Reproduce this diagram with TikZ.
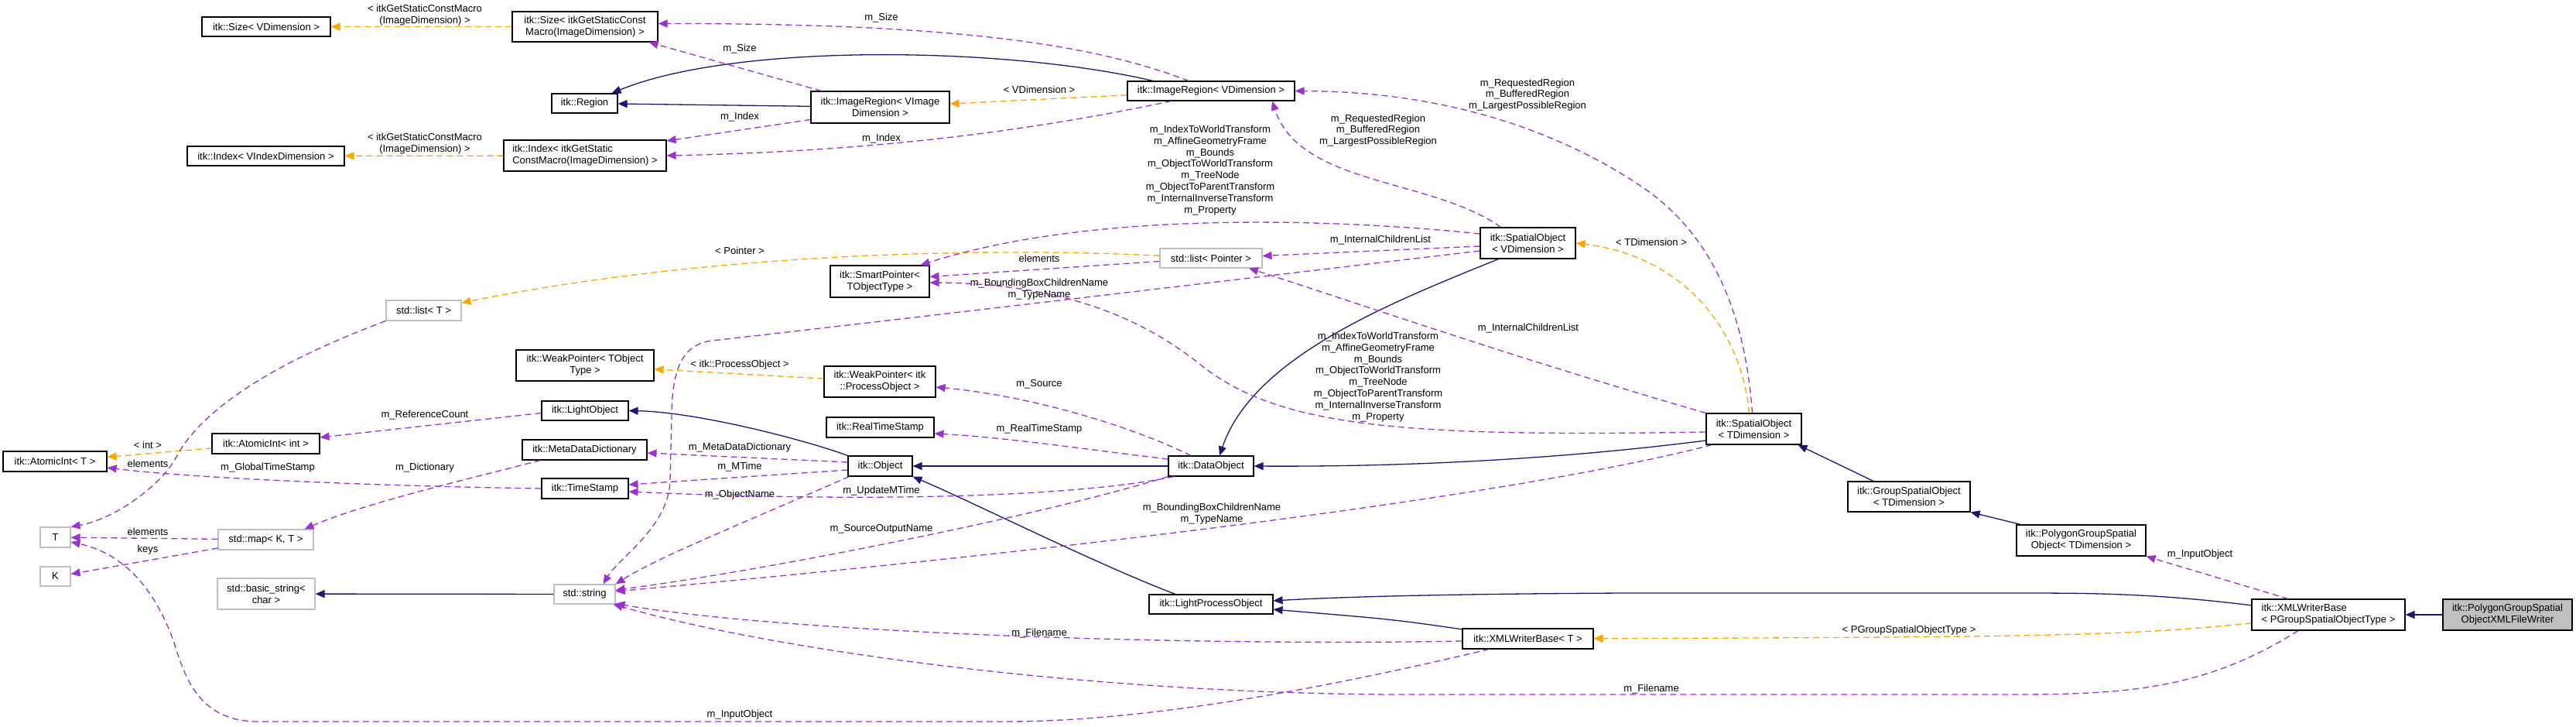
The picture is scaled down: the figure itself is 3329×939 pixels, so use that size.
\documentclass[tikz,border=0pt]{standalone}
\usepackage{fontspec}
\setmainfont{Liberation Sans}
\usepackage{tikz}
\usetikzlibrary{arrows.meta}
\definecolor{inhblue}{HTML}{191970}
\definecolor{usepurple}{HTML}{9A32CD}
\definecolor{tplorange}{HTML}{FFA500}
\definecolor{grey75}{HTML}{BFBFBF}
\newcommand{\soMembers}{m\_IndexToWorldTransform\\m\_AffineGeometryFrame\\m\_Bounds\\m\_ObjectToWorldTransform\\m\_TreeNode\\m\_ObjectToParentTransform\\m\_InternalInverseTransform\\m\_Property}
\newcommand{\regionMembers}{m\_RequestedRegion\\m\_BufferedRegion\\m\_LargestPossibleRegion}
\newcommand{\nameMembers}{m\_BoundingBoxChildrenName\\m\_TypeName}

\begin{document}
\begin{tikzpicture}[x=1pt,y=-1pt,>={Triangle[length=12pt,width=10pt]},font=\fontsize{13pt}{14.8pt}\selectfont]
\tikzstyle{cls}=[draw=black,fill=white,line width=1.1pt,inner sep=2pt,align=center,minimum height=25pt]
\tikzstyle{std}=[cls,draw=grey75]
\tikzstyle{lbl}=[align=center,inner sep=0pt]
\tikzstyle{inh}=[->,draw=inhblue,line width=1.3pt]
\tikzstyle{use}=[->,draw=usepurple,line width=1.3pt,dash pattern=on 8pt off 5pt]
\tikzstyle{tpl}=[->,draw=tplorange,line width=1.3pt,dash pattern=on 8pt off 5pt]
\useasboundingbox (0,0) rectangle (3329,939);

% classes
\node[cls,minimum width=166pt] (sizeV) at (344,34.5) {itk::Size< VDimension >};
\node[cls,minimum width=188pt,minimum height=39pt] (sizeM) at (756,34.5) {itk::Size< itkGetStaticConst\\Macro(ImageDimension) >};
\node[cls,minimum width=85pt] (region) at (755.5,133.5) {itk::Region};
\node[cls,minimum width=203pt] (indexV) at (343.5,201.5) {itk::Index< VIndexDimension >};
\node[cls,minimum width=210pt,minimum height=40pt,align=left] (indexM) at (756,201) {itk::Index< itkGetStatic\\ConstMacro(ImageDimension) >};
\node[cls,minimum width=179pt,minimum height=41pt] (imgRegI) at (1137.5,138.5) {itk::ImageRegion< VImage\\Dimension >};
\node[cls,minimum width=216pt] (imgRegV) at (1565,117.5) {itk::ImageRegion< VDimension >};
\node[cls,minimum width=123pt,minimum height=40pt] (spatV) at (1974.5,314) {itk::SpatialObject\\< VDimension >};
\node[cls,minimum width=123pt,minimum height=40pt] (spatT) at (2266.5,554) {itk::SpatialObject\\< TDimension >};
\node[cls,minimum width=128pt,minimum height=41pt] (smart) at (1137,363.5) {itk::SmartPointer<\\TObjectType >};
\node[std,minimum width=132pt] (listP) at (1565,333.5) {std::list< Pointer >};
\node[std,minimum width=97pt,minimum height=26pt] (listT) at (547.5,401) {std::list< T >};
\node[cls,minimum width=178pt,minimum height=40pt] (weakT) at (756,472) {itk::WeakPointer< TObject\\Type >};
\node[cls,minimum width=144pt,minimum height=40pt] (weakP) at (1137,493) {itk::WeakPointer< itk\\::ProcessObject >};
\node[cls,minimum width=139pt,minimum height=26pt] (realTS) at (1137.5,552) {itk::RealTimeStamp};
\node[cls,minimum width=112pt] (lightObj) at (756,530.5) {itk::LightObject};
\node[cls,minimum width=139pt,minimum height=26pt] (atomInt) at (343.5,573) {itk::AtomicInt< int >};
\node[cls,minimum width=134pt,minimum height=26pt] (atomT) at (71,596) {itk::AtomicInt< T >};
\node[cls,minimum width=161pt,minimum height=26pt] (metaDict) at (755.5,581) {itk::MetaDataDictionary};
\node[cls,minimum width=112pt,minimum height=26pt] (timeStamp) at (756,631) {itk::TimeStamp};
\node[cls,minimum width=83pt,minimum height=26pt] (object) at (1137.5,602) {itk::Object};
\node[cls,minimum width=110pt,minimum height=26pt] (dataObj) at (1565,602) {itk::DataObject};
\node[std,minimum width=39pt,minimum height=26pt] (Tn) at (71.5,694) {T};
\node[std,minimum width=39pt] (Kn) at (71.5,744.5) {K};
\node[std,minimum width=123pt,minimum height=26pt] (stdMap) at (343.5,697) {std::map< K, T >};
\node[std,minimum width=126pt,minimum height=40pt] (basicStr) at (344,767) {std::basic\_string<\\char >};
\node[std,minimum width=79pt] (stdStr) at (755.5,767.5) {std::string};
\node[cls,minimum width=160pt] (lpo) at (1565,780.5) {itk::LightProcessObject};
\node[cls,minimum width=169pt,minimum height=26pt] (xmlT) at (1974.5,825) {itk::XMLWriterBase< T >};
\node[cls,minimum width=158pt,minimum height=39pt] (groupSO) at (2467,641.5) {itk::GroupSpatialObject\\< TDimension >};
\node[cls,minimum width=167pt,minimum height=40pt] (polyGSO) at (2689.5,698) {itk::PolygonGroupSpatial\\Object< TDimension >};
\node[cls,minimum width=198pt,minimum height=40pt,align=left] (xmlPG) at (3009,794) {itk::XMLWriterBase\\< PGroupSpatialObjectType >};
\node[cls,fill=grey75,minimum width=167pt,minimum height=40pt] (writer) at (3240.5,794) {itk::PolygonGroupSpatial\\ObjectXMLFileWriter};

% labels
\node[lbl] (lTplSize) at (549,20) {< itkGetStaticConstMacro\\(ImageDimension) >};
\node[lbl] (lTplIndex) at (549,186) {< itkGetStaticConstMacro\\(ImageDimension) >};
\node[lbl] (lSizeV) at (1139,23) {m\_Size};
\node[lbl] (lSizeI) at (956,63) {m\_Size};
\node[lbl] (lTplRegion) at (1343,116) {< VDimension >};
\node[lbl] (lIndexI) at (956,151) {m\_Index};
\node[lbl] (lIndexV) at (1139,179) {m\_Index};
\node[lbl] (lMembersV) at (1564,220) {\soMembers};
\node[lbl] (lRegionT) at (1974,122.5) {\regionMembers};
\node[lbl] (lRegionV) at (1781,168.5) {\regionMembers};
\node[lbl] (lChildrenV) at (1784,310) {m\_InternalChildrenList};
\node[lbl] (lChildrenT) at (1975,424) {m\_InternalChildrenList};
\node[lbl] (lTplSpatial) at (2134,313) {< TDimension >};
\node[lbl] (lTplList) at (956,324) {< Pointer >};
\node[lbl] (lElemP) at (1343,334) {elements};
\node[lbl] (lNamesV) at (1343,374) {\nameMembers};
\node[lbl] (lMembersT) at (1781,487) {\soMembers};
\node[lbl] (lTplWeak) at (956,471) {< itk::ProcessObject >};
\node[lbl] (lSource) at (1343,496) {m\_Source};
\node[lbl] (lRefCount) at (549,536) {m\_ReferenceCount};
\node[lbl] (lRealTS) at (1343,554) {m\_RealTimeStamp};
\node[lbl] (lTplInt) at (191,575) {< int >};
\node[lbl] (lMetaDict) at (956,578) {m\_MetaDataDictionary};
\node[lbl] (lElemT) at (191,599) {elements};
\node[lbl] (lGlobalTS) at (346,604) {m\_GlobalTimeStamp};
\node[lbl] (lDict) at (549,604) {m\_Dictionary};
\node[lbl] (lMTime) at (956,603) {m\_MTime};
\node[lbl] (lUpdMTime) at (1139,634) {m\_UpdateMTime};
\node[lbl] (lObjName) at (956,639) {m\_ObjectName};
\node[lbl] (lNamesT) at (1566,664) {\nameMembers};
\node[lbl] (lSrcOut) at (1139,683) {m\_SourceOutputName};
\node[lbl] (lElemMap) at (191,687) {elements};
\node[lbl] (lKeys) at (191,710) {keys};
\node[lbl] (lInputPG) at (2843,716) {m\_InputObject};
\node[lbl] (lTplWriter) at (2467,814) {< PGroupSpatialObjectType >};
\node[lbl] (lFileT) at (1343,818) {m\_Filename};
\node[lbl] (lFilePG) at (2134,890) {m\_Filename};
\node[lbl] (lInputT) at (956,923) {m\_InputObject};

% inheritance
\draw[inh] (writer) -- (xmlPG);
\draw[inh] (xmlPG) .. controls (2780,766) and (2700,766) .. (2600,766) -- (2100,766) .. controls (1900,767) and (1750,770) .. (lpo);
\draw[inh] (xmlT) .. controls (1800,800) .. (lpo);
\draw[inh] ([xshift=-46pt]lpo.north) .. controls (1420,730) and (1260,650) .. (object.south east);
\draw[inh] (dataObj) -- (object);
\draw[inh] ([xshift=-38pt]spatV.south) .. controls (1800,390) and (1620,460) .. ([xshift=11pt]dataObj.north);
\draw[inh] ([yshift=-15pt]spatT.west) .. controls (2000,595) and (1800,603) .. (dataObj.east);
\draw[inh] ([xshift=-46pt]groupSO.north) -- ([xshift=-5pt]spatT.south east);
\draw[inh] ([xshift=-78pt]polyGSO.north) -- (groupSO.south east);
\draw[inh] (object.north west) .. controls (1040,568) and (900,532) .. (lightObj.east);
\draw[inh] (imgRegI) -- (region);
\draw[inh] ([xshift=-75pt]imgRegV.north) .. controls (1300,60) and (950,55) .. ([xshift=35pt]region.north);
\draw[inh] (stdStr) -- (basicStr);

% template instances
\draw[tpl] (sizeM) -- (sizeV);
\draw[tpl] (indexM) -- (indexV);
\draw[tpl] (imgRegV) -- (imgRegI);
\draw[tpl] (listP) .. controls (1250,318) and (900,330) .. (listT);
\draw[tpl] (weakP) -- (weakT);
\draw[tpl] (atomInt) -- (atomT);
\draw[tpl] ([xshift=-6pt]spatT.north) .. controls (2250,420) and (2170,330) .. (spatV.east);
\draw[tpl] (xmlPG) .. controls (2750,822) and (2600,823) .. (xmlT);

% members
\draw[use] ([xshift=-76pt]imgRegI.north) -- ([xshift=-12pt]sizeM.south east);
\draw[use] ([xshift=-29pt]imgRegV.north) .. controls (1420,60) and (1250,30) .. ([yshift=4pt]sizeM.east);
\draw[use] ([yshift=-16pt]imgRegI.west) -- ([yshift=19pt]indexM.east);
\draw[use] ([xshift=-51pt]imgRegV.south) .. controls (1350,165) and (1150,195) .. (indexM.east);
\draw[use] ([xshift=-35pt]spatV.north) .. controls (1850,230) and (1680,240) .. ([xshift=79pt]imgRegV.south);
\draw[use] ([xshift=-2pt]spatT.north) .. controls (2255,400) and (2210,300) .. (2120,240) .. controls (2000,160) and (1850,118) .. (imgRegV.east);
\draw[use] ([yshift=12pt]spatV.west) .. controls (1700,280) and (1400,275) .. ([xshift=-12pt]smart.north east);
\draw[use] ([yshift=-4pt]spatV.west) -- ([yshift=3pt]listP.east);
\draw[use] ([yshift=-10pt]spatV.west) .. controls (1650,355) and (1100,420) .. (920,440) .. controls (880,445) and (868,480) .. (868,540) -- (866,620) .. controls (865,680) and (800,720) .. ([xshift=24pt]stdStr.north);
\draw[use] (spatT.north west) .. controls (1950,460) and (1750,390) .. ([xshift=49pt]listP.south);
\draw[use] ([yshift=-4pt]spatT.west) .. controls (1800,565) and (1650,550) .. (1550,470) .. controls (1450,390) and (1330,366) .. ([yshift=-1.5pt]smart.east);
\draw[use] ([xshift=-54pt]spatT.south) .. controls (2000,630) and (1500,700) .. (stdStr);
\draw[use] ([yshift=-4pt]listP.west) -- ([yshift=6pt]smart.east);
\draw[use] ([xshift=-26pt]dataObj.north) .. controls (1450,545) and (1320,510) .. ([yshift=-7pt]weakP.east);
\draw[use] ([yshift=9pt]dataObj.west) .. controls (1400,580) and (1300,565) .. ([yshift=-8pt]realTS.east);
\draw[use] ([xshift=-48pt]dataObj.south) .. controls (1400,640) and (1150,650) .. ([yshift=-4pt]timeStamp.east);
\draw[use] (dataObj.south west) .. controls (1350,665) and (1000,735) .. (stdStr);
\draw[use] ([yshift=5pt]object.west) -- ([yshift=-4pt]metaDict.east);
\draw[use] ([yshift=-5pt]object.west) -- ([yshift=5pt]timeStamp.east);
\draw[use] ([xshift=-40pt]object.south) .. controls (950,680) and (850,720) .. (stdStr.north east);
\draw[use] ([yshift=-3pt]lightObj.west) -- ([yshift=8pt]atomInt.east);
\draw[use] (timeStamp.west) .. controls (500,628) and (250,618) .. ([yshift=-8pt]atomT.east);
\draw[use] (listT.south west) .. controls (350,470) and (260,530) .. (228,590) .. controls (210,625) and (150,670) .. (Tn.north east);
\draw[use] (stdMap) -- (Tn);
\draw[use] ([yshift=-11pt]stdMap.west) -- ([yshift=3pt]Kn.east);
\draw[use] ([xshift=-57pt]metaDict.south) .. controls (620,615) and (470,650) .. ([xshift=50pt]stdMap.north);
\draw[use] ([xshift=-50pt]xmlT.south) .. controls (1750,880) and (1500,932) .. (1300,932) -- (330,932) .. controls (260,930) and (240,880) .. (225,830) .. controls (200,760) and (160,715) .. ([yshift=-6pt]Tn.east);
\draw[use] ([yshift=-3pt]xmlT.west) .. controls (1500,835) and (1000,815) .. ([yshift=-12pt]stdStr.east);
\draw[use] ([xshift=-39pt]xmlPG.south) .. controls (2850,890) and (2750,897) .. (2600,897) -- (1800,897) .. controls (1400,895) and (1000,840) .. ([xshift=-3pt]stdStr.south east);
\draw[use] ([xshift=-52pt]xmlPG.north) -- (polyGSO.south east);
\end{tikzpicture}
\end{document}
